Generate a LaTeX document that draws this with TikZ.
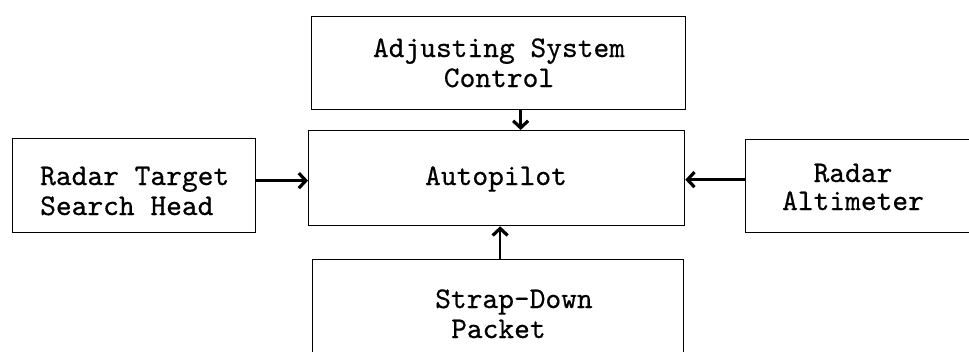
\documentclass[tikz,border=0pt]{standalone}
\usepackage{fontspec}
\newfontfamily\typewriter{lmmono10-regular.otf}[FakeBold=0.5]
\usetikzlibrary{arrows.meta}
\begin{document}
\begin{tikzpicture}[x=1pt,y=-1pt,
  box/.style={draw, line width=1.3pt, inner sep=0pt, anchor=north west},
  lbl/.style={font=\fontsize{30}{31}\selectfont\typewriter, inner sep=0pt},
  conn/.style={line width=2.4pt, -{Straight Barb[length=7pt,width=15pt,line width=3.2pt]}}]
\useasboundingbox (0,0) rectangle (969,351);
\begin{scope}
\clip (0,0) rectangle (969,351);
% boxes
\node[box, minimum width=374pt, minimum height=93pt] (asc) at (311,16) {};
\node[box, minimum width=376pt, minimum height=95pt] (ap) at (308,130) {};
\node[box, minimum width=243pt, minimum height=94pt] (rtsh) at (12,138) {};
\node[box, minimum width=240pt, minimum height=93pt] (ralt) at (745,139) {};
\node[box, minimum width=371pt, minimum height=110pt] (sdp) at (312,259) {};
% texts
\node[lbl, anchor=base] (t1) at (499,57) {Adjusting System};
\node[lbl, anchor=base] (t2) at (499,87) {Control};
\node[lbl, anchor=base] (t3) at (496,185) {Autopilot};
\node[lbl, anchor=base west] (t4) at (40,185) {Radar Target};
\node[lbl, anchor=base west] (t5) at (40,215) {Search Head};
\node[lbl, anchor=base] (t6) at (853,182) {Radar};
\node[lbl, anchor=base] (t7) at (853,210) {Altimeter};
\node[lbl, anchor=base west] (t8) at (435,308) {Strap-Down};
\node[lbl, anchor=base west] (t9) at (451,338) {Packet};
% connectors
\draw[conn] ([xshift=22pt]asc.south) -- ([xshift=22pt]asc.south |- ap.north);
\draw[conn] ([yshift=5pt]rtsh.east) -- ([yshift=5pt]rtsh.east -| ap.west);
\draw[conn] ([yshift=6.5pt]ralt.west) -- ([yshift=6.5pt]ralt.west -| ap.east);
\draw[conn] ([xshift=2pt]sdp.north) -- ([xshift=2pt]sdp.north |- ap.south);
\end{scope}
\end{tikzpicture}
\end{document}
